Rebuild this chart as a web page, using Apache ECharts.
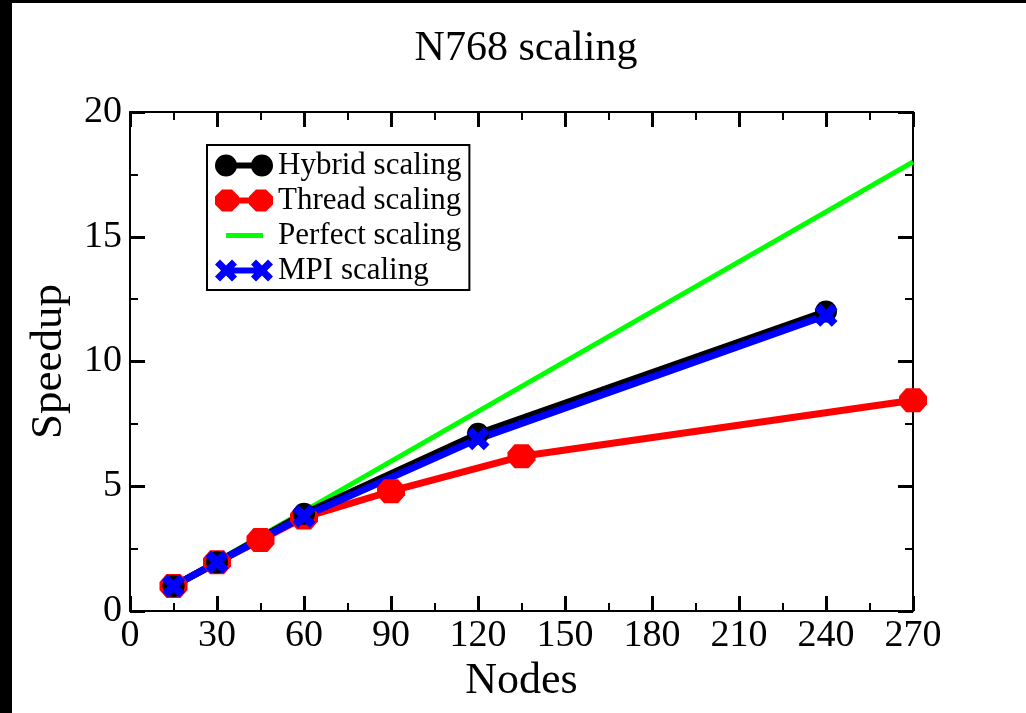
<!DOCTYPE html>
<html>
<head>
<meta charset="utf-8">
<script src="https://cdn.jsdelivr.net/npm/echarts@6/dist/echarts.min.js"></script>
<style>
  html, body { margin: 0; padding: 0; background: #fff; }
  #chart { width: 1026px; height: 713px; }
</style>
</head>
<body>
<div id="chart"></div>
<script>
// ---- data ----
const titleText = 'N768 scaling';
const xAxisName = 'Nodes';
const yAxisName = 'Speedup';
const seriesNames = ['Hybrid scaling', 'Thread scaling', 'Perfect scaling', 'MPI scaling'];

const hybridX = [15, 30, 60, 120, 240];
const hybridY = [1, 1.95, 3.9, 7.1, 12.0];

const threadX = [15, 30, 45, 60, 90, 135, 270];
const threadY = [1, 1.95, 2.85, 3.75, 4.8, 6.2, 8.45];

const perfectX = [15, 270];
const perfectY = [1, 18];

const mpiX = [15, 30, 60, 120, 240];
const mpiY = [1, 1.95, 3.8, 6.9, 11.85];

const xMin = 0, xMax = 270, xStep = 30;
const yMin = 0, yMax = 20, yStep = 5;

// ---- helpers ----
const pairs = (xs, ys) => xs.map((x, i) => [x, ys[i]]);
const FONT = '"Liberation Serif", "DejaVu Serif", serif';

const octagon = 'path://M7,0 L21,0 L28,8 L28,16 L21,24 L7,24 L0,16 L0,8 Z';
const thickX = 'path://M0,6 L6,0 L12,6 L18,0 L24,6 L18,12 L24,18 L18,24 L12,18 L6,24 L0,18 L6,12 Z';

function xShape(ox) {
  const p = [[0,5],[5,0],[11,6],[17,0],[22,5],[16,11],[22,17],[17,22],[11,16],[5,22],[0,17],[6,11]];
  return 'M' + p.map(q => (q[0] + ox) + ',' + q[1]).join(' L') + ' Z';
}
function octShape(ox) {
  const p = [[7,0],[17,0],[24,7],[24,15],[17,22],[7,22],[0,15],[0,7]];
  return 'M' + p.map(q => (q[0] + ox) + ',' + q[1]).join(' L') + ' Z';
}
const corners = 'M0,0 L0.01,0 L0.01,0.01 Z M58,22 L57.99,22 L57.99,21.99 Z ';
const legHybrid = 'path://' + corners + 'M0,11 A11,11 0 1,1 22,11 A11,11 0 1,1 0,11 Z M36,11 A11,11 0 1,1 58,11 A11,11 0 1,1 36,11 Z M11,8 L47,8 L47,14 L11,14 Z';
const legThread = 'path://' + corners + octShape(0) + ' ' + octShape(34) + ' M20,8 L38,8 L38,14 L20,14 Z';
const legPerfect = 'path://' + corners + 'M11,8.5 L48,8.5 L48,13.5 L11,13.5 Z';
const legMpi = 'path://' + corners + xShape(0) + ' ' + xShape(36) + ' M11,8 L47,8 L47,14 L11,14 Z';

const chart = echarts.init(document.getElementById('chart'), null, { renderer: 'canvas' });

const axisLine = { show: true, onZero: false, lineStyle: { color: '#000', width: 2 } };
const majorTick = { show: true, inside: true, length: 15, lineStyle: { color: '#000', width: 3 } };
const minorTick = { show: true, splitNumber: 2, length: 8, lineStyle: { color: '#000', width: 2 } };
const labelStyle = { color: '#000', fontFamily: FONT, fontSize: 38 };

const option = {
  backgroundColor: '#fff',
  animation: false,
  graphic: [
    { type: 'rect', left: 0, top: 0, shape: { width: 12, height: 713 }, style: { fill: '#000' }, z: 100 },
    { type: 'rect', left: 0, top: 0, shape: { width: 1026, height: 3 }, style: { fill: '#000' }, z: 100 }
  ],
  title: {
    text: titleText,
    left: 521, textAlign: 'center',
    top: 23,
    textStyle: { fontFamily: FONT, fontSize: 42, fontWeight: 'normal', color: '#000' }
  },
  grid: { left: 130, right: 113, top: 112, bottom: 102, containLabel: false },
  legend: {
    orient: 'vertical',
    left: 207, top: 145,
    padding: [5, 8, 4, 8],
    itemWidth: 58, itemHeight: 22, itemGap: 4,
    borderColor: '#000', borderWidth: 2, backgroundColor: '#fff',
    textStyle: { fontFamily: FONT, fontSize: 31, color: '#000' },
    itemStyle: { borderWidth: 0 },
    data: [
      { name: seriesNames[0], icon: legHybrid },
      { name: seriesNames[1], icon: legThread },
      { name: seriesNames[2], icon: legPerfect },
      { name: seriesNames[3], icon: legMpi }
    ]
  },
  xAxis: [
    {
      type: 'value', position: 'bottom', min: xMin, max: xMax, interval: xStep,
      name: xAxisName, nameLocation: 'middle', nameGap: 22,
      nameTextStyle: { fontFamily: FONT, fontSize: 44, color: '#000' },
      axisLine, axisTick: majorTick, minorTick,
      axisLabel: Object.assign({ margin: 6 }, labelStyle),
      splitLine: { show: false }
    },
    {
      type: 'value', position: 'top', min: xMin, max: xMax, interval: xStep,
      axisLine, axisTick: majorTick, minorTick,
      axisLabel: { show: false }, splitLine: { show: false }
    }
  ],
  yAxis: [
    {
      type: 'value', position: 'left', min: yMin, max: yMax, interval: yStep,
      name: yAxisName, nameLocation: 'middle', nameGap: 58, nameRotate: 90,
      nameTextStyle: { fontFamily: FONT, fontSize: 45, color: '#000' },
      axisLine, axisTick: majorTick, minorTick,
      axisLabel: Object.assign({ margin: 8 }, labelStyle),
      splitLine: { show: false }
    },
    {
      type: 'value', position: 'right', min: yMin, max: yMax, interval: yStep,
      axisLine, axisTick: majorTick, minorTick,
      axisLabel: { show: false }, splitLine: { show: false }
    }
  ],
  series: [
    {
      name: seriesNames[1], type: 'line', data: pairs(threadX, threadY),
      symbol: octagon, symbolSize: [28, 24], clip: false,
      lineStyle: { color: '#ff0000', width: 7 },
      itemStyle: { color: '#ff0000', borderWidth: 0 }
    },
    {
      name: seriesNames[2], type: 'line', data: pairs(perfectX, perfectY),
      symbol: 'none', clip: false,
      lineStyle: { color: '#00ff00', width: 5 },
      itemStyle: { color: '#00ff00', borderWidth: 0 }
    },
    {
      name: seriesNames[0], type: 'line', data: pairs(hybridX, hybridY),
      symbol: 'circle', symbolSize: 22, clip: false,
      lineStyle: { color: '#000000', width: 7 },
      itemStyle: { color: '#000000', borderWidth: 0 }
    },
    {
      name: seriesNames[3], type: 'line', data: pairs(mpiX, mpiY),
      symbol: thickX, symbolSize: 23, clip: false,
      lineStyle: { color: '#0000ff', width: 7 },
      itemStyle: { color: '#0000ff', borderWidth: 0 }
    }
  ]
};

chart.setOption(option);
</script>
</body>
</html>
